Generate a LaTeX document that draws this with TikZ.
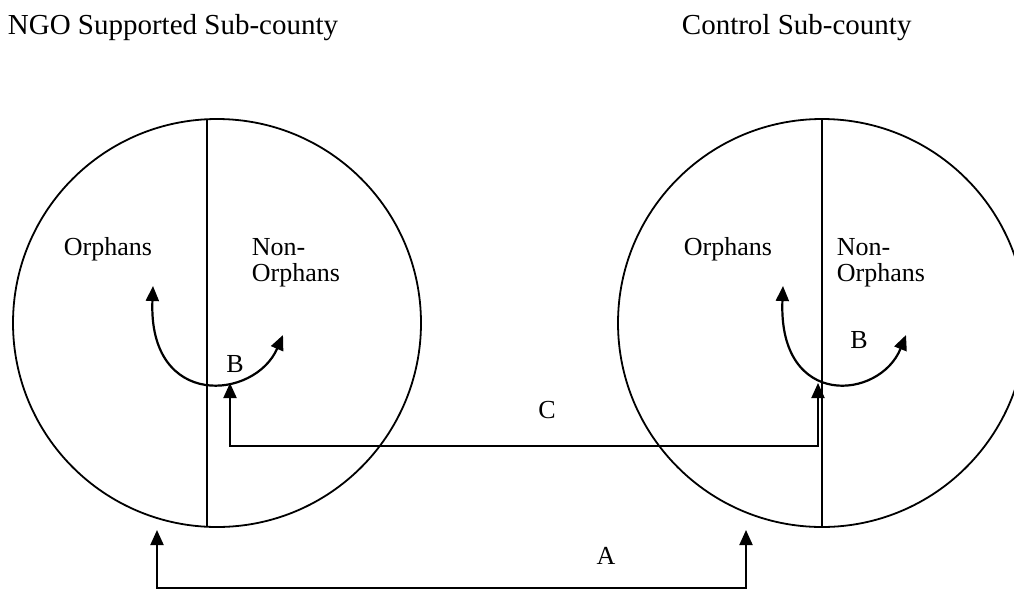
\documentclass[tikz,border=0pt]{standalone}
\usepackage{fontspec}
\setmainfont{Liberation Serif}
\usetikzlibrary{arrows.meta}

\begin{document}
\begin{tikzpicture}[x=1pt,y=-1pt,line width=1.8pt,
    >={Triangle[length=15pt,width=13pt]},
    every node/.style={inner sep=0pt,anchor=base west,font=\fontsize{26}{30}\selectfont},
    heading/.style={font=\fontsize{29}{34}\selectfont}]
    \useasboundingbox (0,0) rectangle (1014,590);

    % Headings
    \node[heading] (ngo) at (7,34) {NGO Supported Sub-county};
    \node[heading] (ctrl) at (681,34) {Control Sub-county};

    % Sub-county circles with dividers
    \draw (217,323) circle (204);
    \draw (207,119) -- (207,527);
    \draw (822,323) circle (204);
    \draw (822,119) -- (822,527);

    % Group labels
    \node (orphL) at (63,255) {Orphans};
    \node (nonL)  at (251,255) {Non-};
    \node (nonL2) at (251,281) {Orphans};
    \node (orphR) at (683,255) {Orphans};
    \node (nonR)  at (836,255) {Non-};
    \node (nonR2) at (836,281) {Orphans};

    % Within sub-county comparison B
    \draw[<->,line width=2.2pt] (153,286) .. controls (148,410) and (255,400) .. (283,335);
    \draw[<->,line width=2.2pt] (783,286) .. controls (778,410) and (880,400) .. (906,335);
    \node[anchor=base] (bL) at (235,372) {B};
    \node[anchor=base] (bR) at (859,348) {B};

    % Between sub-county comparison C
    \coordinate (cL) at (230,383);
    \coordinate (cR) at (818,383);
    \draw[<->,line width=2pt] (cL) -- ++(0,63) -| (cR);
    \node[anchor=base] (lblC) at (547,418) {C};

    % Between sub-county comparison A
    \coordinate (aL) at (157,530);
    \coordinate (aR) at (746,530);
    \draw[<->,line width=2pt] (aL) -- ++(0,58) -| (aR);
    \node[anchor=base] (lblA) at (606,564) {A};
\end{tikzpicture}
\end{document}
